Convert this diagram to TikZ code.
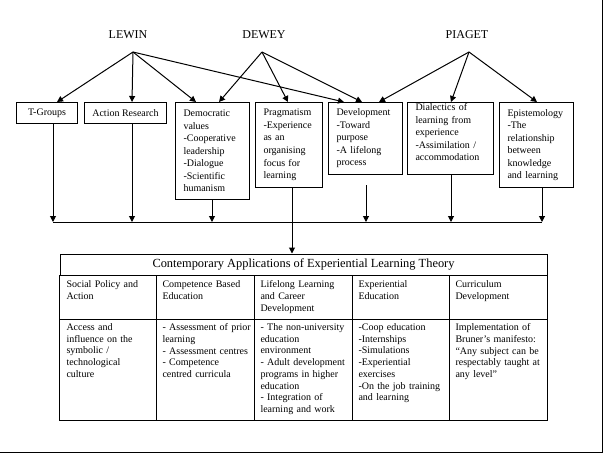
\documentclass[tikz,border=0pt]{standalone}
\usepackage{fontspec}
\setmainfont{Liberation Serif}
\usetikzlibrary{arrows.meta}
\newlength\px
\setlength\px{0.75pt}
\begin{document}
\begin{tikzpicture}[x=\px, y=-\px, line width=0.75pt,
  every node/.style = {font=\fontsize{7.5}{9.4}\selectfont},
  author/.style = {font=\fontsize{9}{11}\selectfont},
  box/.style    = {draw, anchor=north west, align=left,
    inner xsep=6pt, inner ysep=0pt},
  cell/.style   = {anchor=north west, align=left, inner sep=0pt,
    text width=67pt, font=\fontsize{7.5}{8.8}\selectfont},
  feed/.style   = {-{Triangle[length=4.5pt,width=4.5pt]}}]
\useasboundingbox (0,0) rectangle (604,454);
% theorists
\node[author] (lewin)  at (128,35) {LEWIN};
\node[author] (dewey)  at (264,35) {DEWEY};
\node[author] (piaget) at (467,35) {PIAGET};
\coordinate (lw) at (133,52);
\coordinate (dw) at (262,52);
\coordinate (pg) at (469,52);
% ideas
\node[box, inner xsep=0pt, minimum width=61\px, minimum height=21\px] (tgroups) at (16,102) {T-Groups};
\node[box, inner xsep=0pt, minimum width=82\px, minimum height=21\px] (action) at (84,102) {Action Research};
\node[box, text width=58\px, minimum height=97\px] (democ) at (175,102)
 {Democratic\\values\\-Cooperative\\leadership\\-Dialogue\\-Scientific\\humanism};
\node[box, text width=51\px, minimum height=85\px] (pragm) at (255,102)
 {Pragmatism\\-Experience\\as an\\organising\\focus for\\learning};
\node[box, text width=58\px, minimum height=72\px] (devel) at (328,102)
 {Development\\-Toward\\purpose\\-A lifelong\\process};
\node[box, text width=70\px, minimum height=72\px] (dialec) at (407,102)
 {Dialectics of\\learning from\\experience\\-Assimilation /\\accommodation\\\mbox{}};
\node[box, text width=58\px, minimum height=85\px] (episte) at (499,102)
 {Epistemology\\-The\\relationship\\between\\knowledge\\and learning};
% influences
\draw[feed] (lw) -- (57,0 |- tgroups.north);
\draw[feed] (lw) -- (132,0 |- action.north);
\draw[feed] (lw) -- (196,0 |- democ.north);
\draw[feed] (lw) -- (344,0 |- devel.north);
\draw[feed] (dw) -- (219,0 |- democ.north);
\draw[feed] (dw) -- (288,0 |- pragm.north);
\draw[feed] (dw) -- (362,0 |- devel.north);
\draw[feed] (pg) -- (379,0 |- devel.north);
\draw[feed] (pg) -- (451,0 |- dialec.north);
\draw[feed] (pg) -- (537,0 |- episte.north);
% collecting line
\coordinate (bus) at (0,222);
\draw[feed] (53,0 |- tgroups.south) -- (53,0 |- bus);
\draw[feed] (132,0 |- action.south) -- (132,0 |- bus);
\draw[feed] (212,0 |- democ.south) -- (212,0 |- bus);
\draw[feed, shorten <=7.5pt] (366,0 |- devel.south) -- (366,0 |- bus);
\draw[feed] (451,0 |- dialec.south) -- (451,0 |- bus);
\draw[feed] (542,0 |- episte.south) -- (542,0 |- bus);
\draw (53,0 |- bus) -- (542,0 |- bus);
% applications
\node[draw, minimum width=487\px, minimum height=21\px, inner sep=0pt,
  font=\fontsize{9.3}{11}\selectfont] (apps) at (303.5,264.5)
 {Contemporary Applications of Experiential Learning Theory};
\draw[feed] (292,0 |- pragm.south) -- (292,0 |- apps.north);
\draw (apps.south west) rectangle (547,420);
\draw (60,319) -- (547,319);
\foreach \x in {156,254,352,449}
  \draw (\x,0 |- apps.south) -- (\x,420);
\node[cell] (h1) at (66,280)  {Social Policy and\\Action};
\node[cell] (h2) at (162,280) {Competence Based\\Education};
\node[cell] (h3) at (260,280) {Lifelong Learning\\and Career\\Development};
\node[cell] (h4) at (358,280) {Experiential\\Education};
\node[cell] (h5) at (455,280) {Curriculum\\Development};
\node[cell] (b1) at (66,323)
 {Access and\\influence on the\\symbolic /\\technological\\culture};
\node[cell] (b2) at (162,323)
 {- Assessment of prior\\learning\\- Assessment centres\\- Competence\\centred curricula};
\node[cell] (b3) at (260,323)
 {- The non-university\\education\\environment\\- Adult development\\programs in higher\\education\\- Integration of\\learning and work};
\node[cell] (b4) at (358,323)
 {-Coop education\\-Internships\\-Simulations\\-Experiential\\exercises\\-On the job training\\and learning};
\node[cell] (b5) at (455,323)
 {Implementation of\\Bruner's manifesto:\\``Any subject can be\\respectably taught at\\any level''};
% frame
\draw[line width=1pt] (602.5,0) -- (602.5,452.5) -- (0,452.5);
\end{tikzpicture}
\end{document}
